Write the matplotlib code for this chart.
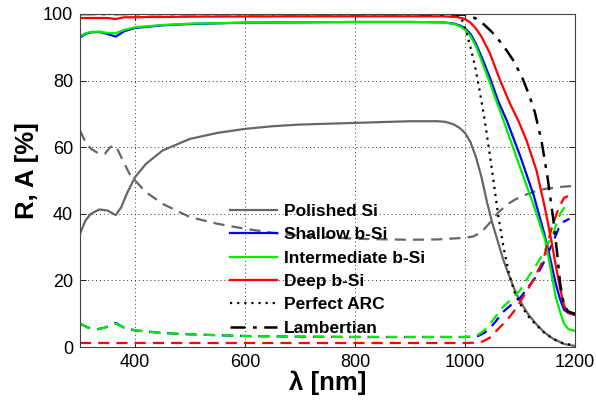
#!/usr/bin/env python3
"""Absorption (solid) and reflection (dashed) of Si / b-Si samples vs wavelength."""

import matplotlib

matplotlib.use("Agg")

import matplotlib.pyplot as plt

# ---- data (wavelength in nm, values in %) ----
pol_a_wl = [300, 310, 320, 335, 350, 365, 375, 385, 400, 420, 450, 500, 550, 600, 650, 700, 800, 900,
            950, 965, 980, 990, 1000, 1010, 1020, 1030, 1040, 1050, 1060, 1070, 1080, 1090, 1100,
            1115, 1130, 1145, 1160, 1180, 1200]
pol_a = [34, 38, 40, 41.3, 41, 39.6, 42, 46, 51, 55, 59, 62.5, 64.3, 65.5, 66.3, 66.8, 67.3, 67.8,
         67.8, 67.6, 66.8, 65.8, 64.3, 61.5, 57, 51, 43.5, 37, 31.5, 26, 21.5, 17.3, 13.8,
         9.8, 6.8, 4.3, 2.5, 0.9, 0.3]

pol_r_wl = [300, 310, 320, 335, 345, 355, 365, 375, 390, 400, 420, 450, 500, 550, 600, 650, 700, 800,
            900, 950, 1000, 1015, 1030, 1045, 1060, 1075, 1090, 1110, 1130, 1150, 1175, 1200]
pol_r = [65, 61.5, 59.5, 58, 58, 60, 60.5, 57, 52, 50, 46.5, 43, 39, 37, 35.5, 34.3, 33.4, 32.5,
         32.2, 32.3, 32.8, 33.2, 34.5, 37.3, 40.3, 42.6, 44.2, 45.7, 46.9, 47.6, 48.1, 48.4]

sh_a_wl = [300, 310, 320, 335, 350, 365, 380, 400, 450, 500, 600, 700, 800, 900, 960, 980, 990, 1000,
           1010, 1020, 1030, 1045, 1060, 1076, 1100, 1125, 1145, 1155, 1165, 1173, 1180, 1188, 1200]
sh_a = [93, 94, 94.5, 94.6, 94, 93.2, 94.8, 95.8, 96.6, 97, 97.4, 97.5, 97.6, 97.6, 97.5, 97.1, 96.6,
        95.7, 94, 91, 87.2, 81, 74, 68, 57.5, 45.5, 33.5, 26.5, 19, 14.3, 11.2, 10.2, 9.6]

sh_r_wl = [300, 315, 330, 345, 365, 380, 400, 450, 500, 600, 700, 800, 900, 1000, 1015, 1025, 1035,
           1045, 1055, 1069, 1085, 1100, 1115, 1131, 1145, 1160, 1170, 1180, 1190]
sh_r = [7, 5.8, 5.3, 5.8, 7.2, 5.8, 5, 4.2, 3.8, 3.3, 3.1, 3.0, 3.0, 3.0, 3.1, 3.4, 4.2,
        5.6, 7.5, 10.5, 12.8, 14.7, 18, 21.5, 26, 31.5, 35.5, 37.7, 38.5]

in_a_wl = [300, 310, 320, 335, 350, 365, 380, 400, 450, 500, 600, 700, 800, 900, 960, 980, 990, 1000,
           1010, 1020, 1030, 1045, 1060, 1069, 1100, 1125, 1146, 1155, 1165, 1173, 1180, 1188, 1200]
in_a = [93.3, 94.2, 94.6, 94.7, 94.3, 94.2, 95.2, 96, 96.7, 97.1, 97.4, 97.5, 97.6, 97.6, 97.5, 97.0,
        96.4, 95.3, 93.4, 90.3, 86, 79.5, 72.5, 68.5, 54, 42.5, 32, 24, 15, 10.5, 7, 5.4, 4.8]

in_r_wl = [300, 315, 330, 345, 365, 380, 400, 450, 500, 600, 700, 800, 900, 1000, 1015, 1025, 1035,
           1045, 1055, 1069, 1085, 1100, 1115, 1131, 1145, 1160, 1173, 1185]
in_r = [7, 5.8, 5.3, 5.8, 7.0, 5.8, 5, 4.2, 3.8, 3.3, 3.1, 3.0, 3.0, 3.0, 3.2, 3.8, 5,
        6.8, 9, 12, 14.5, 17, 21, 25, 29, 34, 40, 43]

dp_a_wl = [300, 350, 365, 380, 500, 700, 960, 985, 1000, 1010, 1020, 1030, 1045, 1064, 1082, 1096,
           1112, 1130, 1145, 1157, 1165, 1173, 1180, 1188, 1200]
dp_a = [98.8, 98.8, 98.5, 99, 99.2, 99.3, 99.3, 99.1, 98.5, 97.4, 95.6, 93.2, 88.3, 80, 73, 68.3,
        62, 53, 42, 32, 24.5, 17.5, 12.5, 10.3, 9.7]

dp_r_wl = [300, 400, 600, 800, 1000, 1020, 1033, 1045, 1055, 1065, 1076, 1088, 1100, 1112, 1124,
           1142, 1158, 1170, 1180, 1190]
dp_r = [1.2, 1.2, 1.2, 1.2, 1.2, 1.3, 1.7, 2.8, 4.5, 6.2, 8, 10.5, 13.5, 16.7, 20,
        26, 36, 41.5, 44.8, 45.5]

arc_wl = [300, 600, 900, 980, 990, 997, 1003, 1010, 1018, 1026, 1036, 1049, 1060, 1070, 1080, 1090,
          1100, 1115, 1130, 1145, 1160, 1180, 1200]
arc = [100, 100, 100, 100, 99.3, 97.5, 94.3, 90, 84.5, 77.5, 68, 53.3, 40, 30, 22, 16.5,
       13, 9.2, 6.5, 4.2, 2.4, 1, 0.5]

lam_wl = [300, 600, 900, 1000, 1010, 1020, 1030, 1040, 1050, 1060, 1076, 1090, 1105, 1117, 1127,
          1139, 1150, 1160, 1167, 1173, 1180, 1188, 1200]
lam = [100, 100, 100, 99.8, 99.4, 98.6, 97.5, 96, 94.4, 92.5, 89, 85.5, 80.5, 75.5, 70.5,
       62, 51, 39, 29, 19, 12.5, 10.6, 10]

plt.rcParams["font.family"] = ["Liberation Sans", "DejaVu Sans"]

fig = plt.figure(figsize=(5.96, 4.05), dpi=100)
ax = fig.add_axes([80 / 596, 58 / 405, 495 / 596, 333 / 405])

grey = "#666666"
dash = (0, (5, 3.2))
lw = 1.6

ax.plot(pol_a_wl, pol_a, color=grey, lw=lw, label="Polished Si")
ax.plot(pol_r_wl, pol_r, color=grey, lw=lw, ls=dash)
ax.plot(sh_a_wl, sh_a, color="#0000ff", lw=lw, label="Shallow b-Si")
ax.plot(sh_r_wl, sh_r, color="#0000ff", lw=lw, ls=dash)
ax.plot(in_a_wl, in_a, color="#00ee00", lw=lw, label="Intermediate b-Si")
ax.plot(in_r_wl, in_r, color="#00ee00", lw=lw, ls=dash)
ax.plot(dp_a_wl, dp_a, color="#ff0000", lw=lw, label="Deep b-Si")
ax.plot(dp_r_wl, dp_r, color="#ff0000", lw=lw, ls=dash)
ax.plot(arc_wl, arc, color="black", lw=1.6, ls=(0, (1, 2.2)), label="Perfect ARC")
ax.plot(lam_wl, lam, color="black", lw=1.8, ls=(0, (6, 3, 1.5, 3)), label="Lambertian")

ax.set_xlim(300, 1200)
ax.set_ylim(0, 100)
ax.set_xticks([400, 600, 800, 1000, 1200])
ax.set_yticks([0, 20, 40, 60, 80, 100])
ax.grid(True, color="black", ls=(0, (1, 3)), lw=0.7, alpha=0.8)
ax.tick_params(direction="in", top=True, right=True, length=4, width=0.6, labelsize=13, pad=5)
for sp in ax.spines.values():
    sp.set_color("#444444")
    sp.set_linewidth(0.8)

ax.set_xlabel("λ [nm]", fontsize=18.5, fontweight="bold", labelpad=0)
ax.set_ylabel("R, A [%]", fontsize=18.5, fontweight="bold")
ax.yaxis.set_label_coords(-0.082, 0.53)

leg = ax.legend(loc="upper left", bbox_to_anchor=(150 / 495, 143 / 333), frameon=False,
                prop={"weight": "bold", "size": 12.5}, handlelength=2.7, handletextpad=0.4,
                labelspacing=0.47, borderpad=0, borderaxespad=0)

fig.savefig("out.png", dpi=100, facecolor="white")
